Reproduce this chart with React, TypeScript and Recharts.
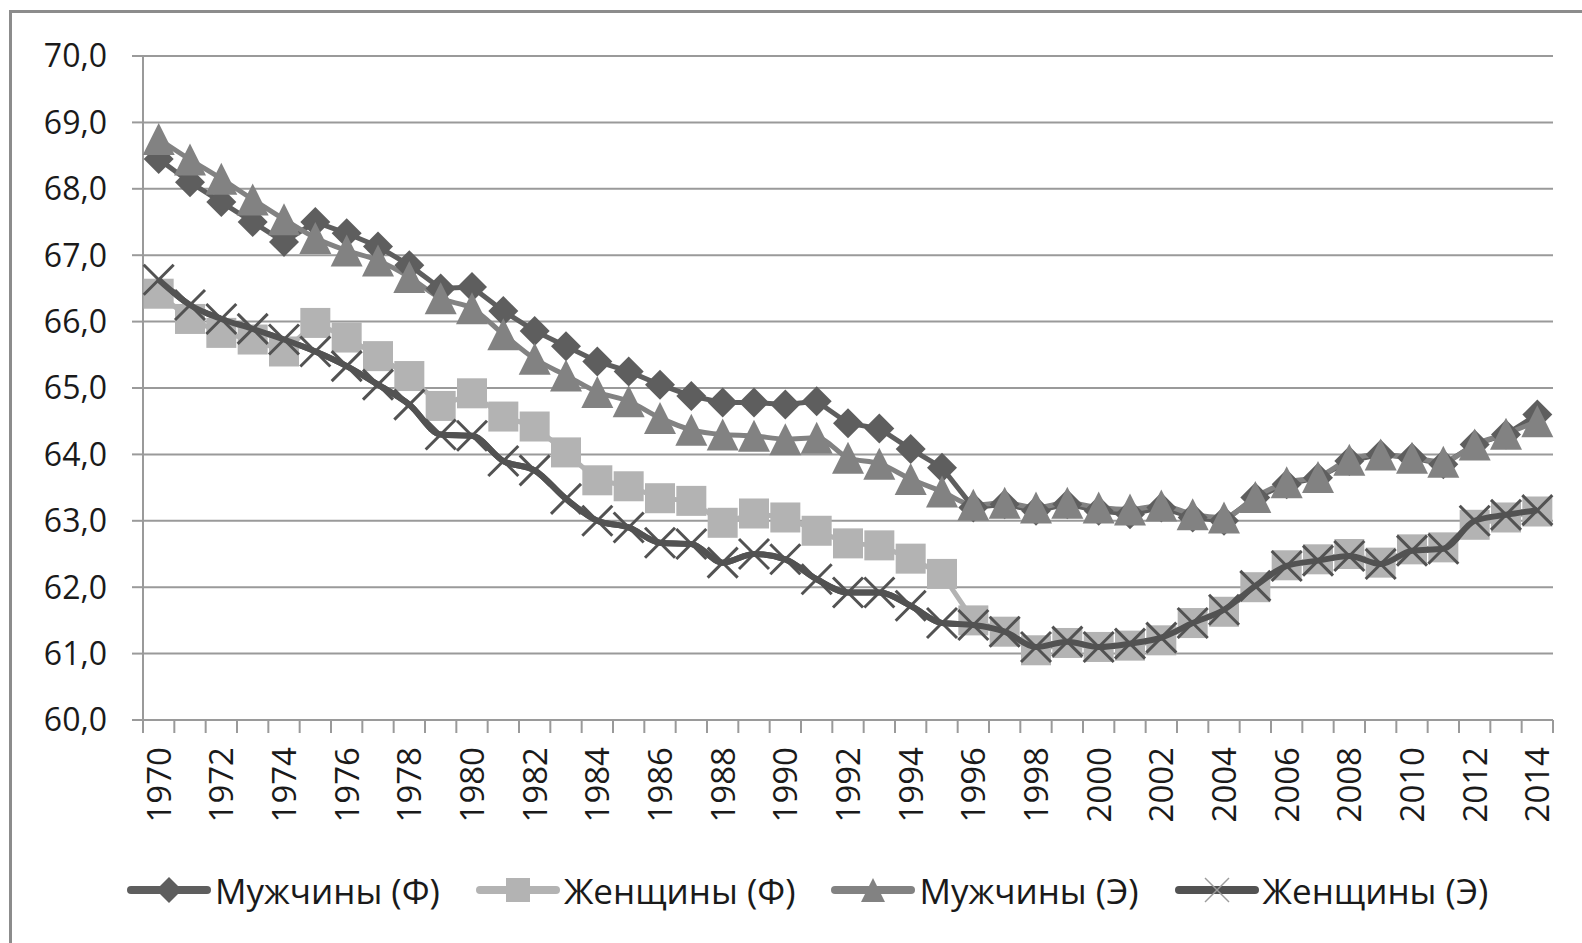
import React from 'react'
import { LineChart, Line, XAxis, YAxis, CartesianGrid, Legend, Curve } from 'recharts'

// годы (категории оси X)
const years = [
  1970, 1971, 1972, 1973, 1974, 1975, 1976, 1977, 1978, 1979,
  1980, 1981, 1982, 1983, 1984, 1985, 1986, 1987, 1988, 1989,
  1990, 1991, 1992, 1993, 1994, 1995, 1996, 1997, 1998, 1999,
  2000, 2001, 2002, 2003, 2004, 2005, 2006, 2007, 2008, 2009,
  2010, 2011, 2012, 2013, 2014,
]

const menF = [
  68.45, 68.1, 67.8, 67.5, 67.2, 67.5, 67.33, 67.13, 66.85, 66.5,
  66.52, 66.16, 65.86, 65.63, 65.4, 65.25, 65.05, 64.88, 64.78, 64.78,
  64.75, 64.8, 64.47, 64.39, 64.08, 63.8, 63.2, 63.25, 63.15, 63.25,
  63.15, 63.1, 63.2, 63.05, 63.0, 63.35, 63.55, 63.65, 63.9, 64.0,
  63.95, 63.85, 64.15, 64.3, 64.6,
]

const womenF = [
  66.42, 66.04, 65.83, 65.73, 65.55, 65.98, 65.76, 65.48, 65.18, 64.73,
  64.92, 64.57, 64.42, 64.03, 63.61, 63.52, 63.34, 63.3, 62.97, 63.11,
  63.05, 62.85, 62.66, 62.63, 62.43, 62.2, 61.5, 61.33, 61.05, 61.16,
  61.1, 61.12, 61.2, 61.46, 61.63, 62.0, 62.33, 62.42, 62.5, 62.37,
  62.57, 62.6, 62.94, 63.05, 63.14,
]

const menE = [
  68.75, 68.44, 68.15, 67.84, 67.54, 67.26, 67.07, 66.92, 66.67, 66.35,
  66.2, 65.81, 65.44, 65.19, 64.94, 64.8, 64.55, 64.37, 64.3, 64.28,
  64.23, 64.25, 63.95, 63.86, 63.63, 63.44, 63.24, 63.27, 63.2, 63.27,
  63.2, 63.17, 63.23, 63.1, 63.05, 63.36, 63.58, 63.66, 63.92, 64.0,
  63.95, 63.89, 64.15, 64.31, 64.5,
]

const womenE = [
  66.63, 66.25, 66.04, 65.89, 65.73, 65.55, 65.33, 65.05, 64.75, 64.3,
  64.28, 63.9, 63.76, 63.33, 63.0, 62.9, 62.67, 62.65, 62.37, 62.5,
  62.42, 62.12, 61.92, 61.92, 61.72, 61.46, 61.43, 61.33, 61.1, 61.18,
  61.1, 61.15, 61.24, 61.46, 61.66, 62.02, 62.32, 62.4, 62.47, 62.35,
  62.55, 62.58, 63.0, 63.09, 63.16,
]

const yTicks = [60, 61, 62, 63, 64, 65, 66, 67, 68, 69, 70]

const data = years.map((year, i) => ({
  year,
  menF: menF[i],
  womenF: womenF[i],
  menE: menE[i],
  womenE: womenE[i],
}))

const W = 1582
const H = 943
const PLOT_LEFT = 143
const PLOT_RIGHT = 1553
const STEP = (PLOT_RIGHT - PLOT_LEFT) / years.length
const FONT = '"Open Sans", "Noto Sans", sans-serif'
const AXIS = '#9a9a9a'

const C_MEN_F = '#5e5e5e'
const C_WOMEN_F = '#b3b3b3'
const C_MEN_E = '#828282'
const C_WOMEN_E = '#525252'

// маркеры
const diamond = (cx: number, cy: number, r: number, fill: string, key?: string) => (
  <path key={key} d={`M${cx},${cy - r}L${cx + r},${cy}L${cx},${cy + r}L${cx - r},${cy}Z`} fill={fill} />
)
const square = (cx: number, cy: number, r: number, fill: string, key?: string) => (
  <rect key={key} x={cx - r} y={cy - r} width={2 * r} height={2 * r} fill={fill} />
)
const triangle = (cx: number, cy: number, r: number, fill: string, key?: string) => (
  <path key={key} d={`M${cx},${cy - r}L${cx + r},${cy + r}L${cx - r},${cy + r}Z`} fill={fill} />
)
const cross = (cx: number, cy: number, r: number, stroke: string, w: number, key?: string) => (
  <g key={key}>
    <line x1={cx - r} y1={cy - r} x2={cx + r} y2={cy + r} stroke={stroke} strokeWidth={w} />
    <line x1={cx - r} y1={cy + r} x2={cx + r} y2={cy - r} stroke={stroke} strokeWidth={w} />
  </g>
)

// линия женщин (Э) должна лежать поверх квадратных маркеров
const womenEDot = (p: any) => (
  <g key={`we-${p.index}`}>
    {p.index === 0 && Array.isArray(p.points) && (
      <Curve type="monotone" points={p.points} stroke={C_WOMEN_E} strokeWidth={6} fill="none" />
    )}
    {cross(p.cx, p.cy, 15, C_WOMEN_E, 3)}
  </g>
)

const XTick = (props: any) => {
  const { x, y, payload, index } = props
  const left = x - STEP / 2
  return (
    <g>
      <line x1={left} y1={y} x2={left} y2={y + 13} stroke={AXIS} strokeWidth={2} />
      {index === years.length - 1 && (
        <line x1={x + STEP / 2} y1={y} x2={x + STEP / 2} y2={y + 13} stroke={AXIS} strokeWidth={2} />
      )}
      {index % 2 === 0 && (
        <text
          x={x}
          y={y + 27}
          dy="0.36em"
          transform={`rotate(-90, ${x}, ${y + 27})`}
          textAnchor="end"
          fontSize={33}
          fontFamily={FONT}
          fill="#1a1a1a"
        >
          {payload.value}
        </text>
      )}
    </g>
  )
}

const legendItems = [
  { name: 'Мужчины (Ф)', color: C_MEN_F, mark: (cx: number, cy: number) => diamond(cx, cy, 13, C_MEN_F) },
  { name: 'Женщины (Ф)', color: C_WOMEN_F, mark: (cx: number, cy: number) => square(cx, cy, 12, C_WOMEN_F) },
  { name: 'Мужчины (Э)', color: C_MEN_E, mark: (cx: number, cy: number) => triangle(cx, cy, 12, C_MEN_E) },
  { name: 'Женщины (Э)', color: C_WOMEN_E, mark: (cx: number, cy: number) => cross(cx, cy, 12, '#9c9c9c', 1.5) },
]

const renderLegend = () => (
  <div style={{ display: 'flex', alignItems: 'center', paddingLeft: 127, gap: 36, height: 60 }}>
    {legendItems.map((it) => (
      <div key={it.name} style={{ display: 'flex', alignItems: 'center' }}>
        <svg width={84} height={30}>
          <line x1={4} y1={15} x2={80} y2={15} stroke={it.color} strokeWidth={8} strokeLinecap="round" />
          {it.mark(42, 15)}
        </svg>
        <span style={{ fontFamily: FONT, fontSize: 35, color: '#1a1a1a', marginLeft: 4, whiteSpace: 'nowrap' }}>
          {it.name}
        </span>
      </div>
    ))}
  </div>
)

export default function App() {
  return (
    <div style={{ position: 'relative', width: W, height: H, background: '#fff' }}>
      <style>{'body{margin:0}'}</style>
      <div
        style={{
          position: 'absolute', left: 9, top: 10, right: 0, bottom: 0,
          borderLeft: '3px solid #8c8c8c', borderTop: '3px solid #8c8c8c', pointerEvents: 'none',
        }}
      />
      <LineChart width={W} height={H} data={data} margin={{ top: 56, right: W - PLOT_RIGHT, left: 0, bottom: 23 }}>
        <CartesianGrid vertical={false} stroke={AXIS} strokeWidth={2} />
        <XAxis
          dataKey="year"
          scale="band"
          interval={0}
          height={140}
          tickLine={false}
          tickSize={0}
          tickMargin={0}
          axisLine={{ stroke: AXIS, strokeWidth: 2 }}
          tick={<XTick />}
        />
        <YAxis
          domain={[60, 70]}
          ticks={yTicks}
          width={PLOT_LEFT}
          tickSize={11}
          tickMargin={25}
          tickLine={{ stroke: AXIS, strokeWidth: 2 }}
          axisLine={{ stroke: AXIS, strokeWidth: 2 }}
          tickFormatter={(v: number) => v.toFixed(1).replace('.', ',')}
          tick={{ fontSize: 32, fontFamily: FONT, fill: '#1a1a1a' }}
        />
        <Legend verticalAlign="bottom" height={60} content={renderLegend} />
        <Line
          type="linear"
          dataKey="menF"
          name="Мужчины (Ф)"
          stroke={C_MEN_F}
          strokeWidth={5}
          isAnimationActive={false}
          activeDot={false}
          dot={(p: any) => diamond(p.cx, p.cy, 15, C_MEN_F, `mf-${p.index}`)}
        />
        <Line
          type="linear"
          dataKey="womenF"
          name="Женщины (Ф)"
          stroke={C_WOMEN_F}
          strokeWidth={5}
          isAnimationActive={false}
          activeDot={false}
          dot={(p: any) => square(p.cx, p.cy, 15, C_WOMEN_F, `wf-${p.index}`)}
        />
        <Line
          type="monotone"
          dataKey="menE"
          name="Мужчины (Э)"
          stroke={C_MEN_E}
          strokeWidth={5}
          isAnimationActive={false}
          activeDot={false}
          dot={(p: any) => triangle(p.cx, p.cy, 16, C_MEN_E, `me-${p.index}`)}
        />
        <Line
          type="monotone"
          dataKey="womenE"
          name="Женщины (Э)"
          stroke={C_WOMEN_E}
          strokeWidth={6}
          isAnimationActive={false}
          activeDot={false}
          dot={womenEDot}
        />
      </LineChart>
    </div>
  )
}
